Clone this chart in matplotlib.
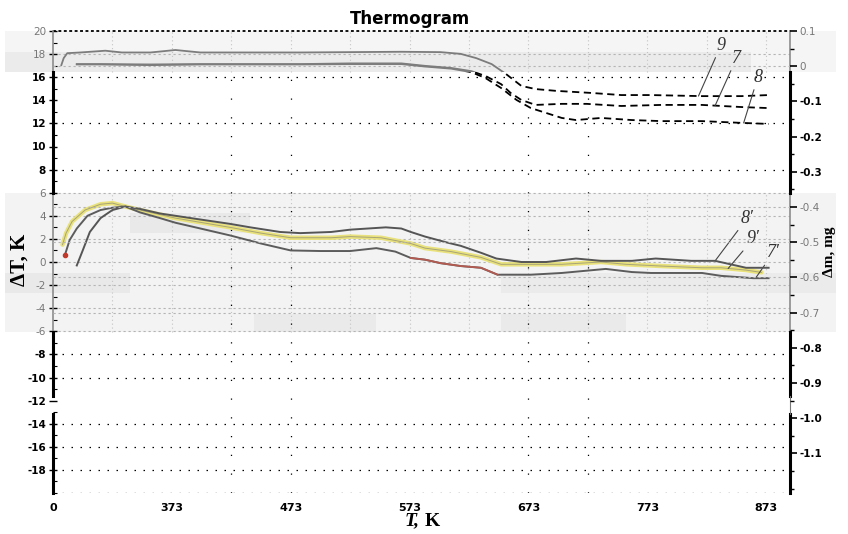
import numpy as np
import matplotlib
matplotlib.use("Agg")
import matplotlib.pyplot as plt
from matplotlib.patches import Rectangle
from matplotlib.ticker import MultipleLocator

plt.rcParams["axes.unicode_minus"] = False

# ---------------- data ----------------
# DTA curves: temperature difference dT (K) against temperature T (K)
t_8p = [293, 298, 304, 313, 323, 334, 346, 363, 389, 422, 439, 464, 481, 507, 523, 553, 566,
        574, 586, 604, 616, 633, 646, 667, 688, 713, 734, 760, 780, 810, 830, 856, 875]
dt_8p = [-0.3, 1.0, 2.6, 3.8, 4.5, 4.8, 4.6, 4.2, 3.8, 3.3, 3.0, 2.6, 2.5, 2.6, 2.8, 3.0, 2.9,
         2.6, 2.2, 1.7, 1.4, 0.8, 0.3, 0.0, 0.0, 0.3, 0.1, 0.1, 0.3, 0.1, 0.1, -0.5, -0.5]

t_9p = [281, 284, 289, 300, 313, 323, 334, 346, 376, 422, 448, 473, 507, 523, 549, 574, 586,
        608, 633, 650, 675, 701, 734, 755, 785, 819, 835, 856, 869]
dt_9p = [1.5, 2.5, 3.5, 4.5, 5.0, 5.1, 4.8, 4.5, 3.8, 3.0, 2.5, 2.1, 2.1, 2.2, 2.1, 1.6, 1.2,
         0.9, 0.4, -0.2, -0.2, -0.2, 0.0, -0.2, -0.35, -0.5, -0.5, -0.7, -0.9]

t_7p = [283, 287, 293, 302, 313, 323, 334, 346, 363, 376, 397, 422, 448, 473, 498, 523, 545,
        561, 574, 586, 599, 616, 633, 647, 675, 701, 738, 760, 776, 819, 835, 862, 875]
dt_7p = [0.6, 1.9, 2.9, 4.0, 4.5, 4.7, 4.8, 4.3, 3.8, 3.4, 2.9, 2.3, 1.6, 1.0, 0.95, 0.95, 1.2,
         0.9, 0.35, 0.2, -0.1, -0.35, -0.5, -1.1, -1.1, -0.95, -0.6, -0.87, -0.95, -0.95, -1.2, -1.4, -1.4]

# TG curves: mass change dm (mg) against temperature T (K)
t_9 = [280, 282, 285, 296, 317, 331, 355, 376, 397, 439, 481, 523, 566, 599, 616, 629, 642,
       654, 667, 679, 696, 726, 751, 776, 819, 852, 875]
dm_9 = [0.003, 0.023, 0.037, 0.039, 0.044, 0.039, 0.039, 0.046, 0.039, 0.039, 0.039, 0.040, 0.041,
        0.040, 0.035, 0.023, 0.006, -0.022, -0.056, -0.065, -0.070, -0.076, -0.082, -0.082,
        -0.085, -0.085, -0.082]

t_7 = [293, 313, 355, 397, 439, 481, 523, 566, 586, 608, 625, 637, 650, 658, 667, 679, 701,
       722, 751, 785, 819, 852, 875]
dm_7 = [0.006, 0.006, 0.005, 0.006, 0.006, 0.006, 0.008, 0.008, 0.001, -0.005, -0.014, -0.028,
        -0.051, -0.076, -0.096, -0.110, -0.107, -0.107, -0.113, -0.110, -0.110, -0.116, -0.119]

t_8 = [293, 313, 355, 397, 439, 481, 523, 566, 586, 608, 625, 637, 650, 663, 675, 688, 701,
       713, 734, 760, 785, 819, 852, 875]
dm_8 = [0.005, 0.005, 0.003, 0.005, 0.005, 0.005, 0.006, 0.006, -0.001, -0.007, -0.017, -0.034,
        -0.062, -0.096, -0.119, -0.133, -0.147, -0.153, -0.147, -0.153, -0.156, -0.156, -0.161, -0.164]

x_ticks = [273, 373, 473, 573, 673, 773, 873]
x_tick_labels = ["0", "373", "473", "573", "673", "773", "873"]
dt_ticks = [20, 18, 16, 14, 12, 10, 8, 6, 4, 2, 0, -2, -4, -6, -8, -10, -12, -14, -16, -18]
dm_ticks = [0.1, 0.0, -0.1, -0.2, -0.3, -0.4, -0.5, -0.6, -0.7, -0.8, -0.9, -1.0, -1.1]
dm_tick_labels = ["0.1", "0", "-0.1", "-0.2", "-0.3", "-0.4", "-0.5", "-0.6", "-0.7",
                  "-0.8", "-0.9", "-1.0", "-1.1"]

# ---------------- figure ----------------
W, H = 848, 534
fig = plt.figure(figsize=(W / 100, H / 100), dpi=100)
ax = fig.add_axes([53 / W, 1 - 493 / H, 737 / W, 462 / H])
ax.set_xlim(273, 893)
ax.set_ylim(-20, 20)
ax2 = ax.twinx()
ax2.set_ylim(-1.2125, 0.1)
for a in (ax, ax2):
    for s in a.spines.values():
        s.set_visible(False)
    a.patch.set_visible(False)

T0, T1 = 273, 893
XF0, XF1 = 233, 932
TOP_BAND = (16.45, 20.0)
MID_BAND = (-6.05, 5.97)


def dm_to_dt(v):
    return -20 + (v + 1.2125) / 1.3125 * 40


def shade(x0, x1, y0, y1, color):
    ax.add_patch(Rectangle((x0, y0), x1 - x0, y1 - y0, facecolor=color,
                           edgecolor="none", zorder=0, clip_on=False))


# shaded strips
shade(XF0, XF1, 18.18, 20.0, "#f5f5f5")
shade(XF0, 860, TOP_BAND[0], 18.18, "#ebebeb")
shade(860, XF1, TOP_BAND[0], 18.18, "#f5f5f5")
shade(XF0, XF1, MID_BAND[0], MID_BAND[1], "#f3f3f3")
shade(338, 439, 2.5, 4.24, "#e9e9e9")
shade(XF0, 338, -2.7, -0.95, "#e9e9e9")
shade(442, 545, MID_BAND[0], -4.5, "#eaeaea")
shade(650, 755, MID_BAND[0], -4.5, "#eaeaea")
shade(650, XF1, -2.7, -0.95, "#ebebeb")

# grid
grid_x = np.arange(323, 874, 50)
ax.vlines(grid_x, *TOP_BAND, colors="#c4c4c4", linestyles=(0, (1, 2.5)), lw=0.8, zorder=1)
ax.vlines(grid_x, *MID_BAND, colors="#c4c4c4", linestyles=(0, (1, 2.5)), lw=0.8, zorder=1)
ax.vlines([423, 473, 673, 723], -20, TOP_BAND[0], colors="black",
          linestyles=(0, (1, 14)), lw=0.9, zorder=1)
ax.hlines([16, 12, 8, -8, -10, -14, -16, -18, -20], T0, T1, colors="black",
          linestyles=(0, (1.2, 6)), lw=0.9, zorder=1)
ax.hlines([18, 6, 4, 2, 0, -2, -4, -6], T0, T1, colors="#b4b4b4",
          linestyles=(0, (2, 2.5)), lw=0.8, zorder=1)
ax2.hlines([0.0, -0.4, -0.5, -0.6, -0.7], T0, T1, colors="#b4b4b4",
           linestyles=(0, (2, 2.5)), lw=0.8, zorder=1)
ax.plot([T0, T1], [20, 20], color="black", lw=1.3, ls=(0, (1.6, 1.4)), clip_on=False, zorder=5)

# frame
for x in (T0, T1):
    for y0, y1 in [(20, TOP_BAND[0]), MID_BAND]:
        ax.plot([x, x], [y0, y1], color="#8c8c8c", lw=1.2, clip_on=False, zorder=5)
    for y0, y1 in [(TOP_BAND[0], MID_BAND[1]), (MID_BAND[0], -11.6), (-13.2, -20)]:
        ax.plot([x, x], [y0, y1], color="black", lw=2.2, clip_on=False, zorder=5)
ax.plot([T1, T1], [-11.6, -13.2], color="#777777", lw=0.8, clip_on=False, zorder=5)

# DTA curves
ax.plot(t_9p, dt_9p, color="#e9e27c", lw=3.2, zorder=3, solid_capstyle="round")
ax.plot(t_9p, dt_9p, color="#a8a478", lw=0.7, zorder=3)
ax.plot(t_8p, dt_8p, color="#555555", lw=1.4, zorder=4)
ax.plot(t_7p, dt_7p, color="#5c5c5c", lw=1.4, zorder=4)
t7a, d7a = np.array(t_7p), np.array(dt_7p)
red = (t7a >= 570) & (t7a <= 648)
ax.plot(t7a[red], d7a[red], color="#b45a50", lw=1.3, zorder=4)
ax.plot(t_7p[0], dt_7p[0], "o", color="#c0392b", ms=3, zorder=4)

# TG curves: grey where they cross the upper strip, dashed below it
in_clip = Rectangle((XF0, TOP_BAND[0]), XF1 - XF0, TOP_BAND[1] - TOP_BAND[0], transform=ax.transData)
out_clip = Rectangle((XF0, -20), XF1 - XF0, TOP_BAND[0] + 20, transform=ax.transData)
for tt, dd in [(t_9, dm_9), (t_7, dm_7), (t_8, dm_8)]:
    ln_in, = ax2.plot(tt, dd, color="#7c7c7c", lw=1.3, zorder=3)
    ln_in.set_clip_path(in_clip)
    ln_out, = ax2.plot(tt, dd, color="black", lw=1.3, dashes=(4, 2.5), zorder=3)
    ln_out.set_clip_path(out_clip)

# curve labels
lab_kw = dict(fontsize=13, family="Liberation Serif", style="italic", color="#333333",
              ha="center", va="center",
              arrowprops=dict(arrowstyle="-", lw=0.8, color="#444444", shrinkA=1, shrinkB=0))
for name, tt, dd, tp, pos in [("9", t_9, dm_9, 816, (835, 0.060)),
                              ("7", t_7, dm_7, 830, (848, 0.023)),
                              ("8", t_8, dm_8, 854, (866, -0.031))]:
    ax2.annotate(name, xy=(tp, np.interp(tp, tt, dd)), xytext=pos, **lab_kw)
for name, tt, dd, tp, pos in [("8′", t_8p, dt_8p, 830, (857, 3.8)),
                              ("9′", t_9p, dt_9p, 841, (862, 2.0)),
                              ("7′", t_7p, dt_7p, 864, (879, 0.8))]:
    ax.annotate(name, xy=(tp, np.interp(tp, tt, dd)), xytext=pos, **lab_kw)

# ticks
ax.set_xticks(x_ticks)
ax.set_xticklabels(x_tick_labels)
ax.tick_params(axis="x", length=0, pad=7, labelsize=8)
for lbl in ax.get_xticklabels():
    lbl.set_fontweight("bold")
    lbl.set_family("DejaVu Sans")
ax2.tick_params(axis="x", length=0)

ax.set_yticks(dt_ticks)
ax.set_yticklabels([str(v) for v in dt_ticks])
ax.yaxis.set_minor_locator(MultipleLocator(1))
ax.tick_params(axis="y", which="major", direction="inout", length=6, width=1.0, pad=2, labelsize=7.5)
ax.tick_params(axis="y", which="minor", direction="in", length=3, width=0.8)


def in_band(v):
    return TOP_BAND[0] - 0.3 <= v <= TOP_BAND[1] + 0.3 or MID_BAND[0] - 0.3 <= v <= MID_BAND[1] + 0.3


for v, lbl in zip(dt_ticks, ax.get_yticklabels()):
    if in_band(v):
        lbl.set_color("#777777")
    else:
        lbl.set_fontweight("bold")

ax2.set_yticks(dm_ticks)
ax2.set_yticklabels(dm_tick_labels)
ax2.yaxis.set_minor_locator(MultipleLocator(0.05))
ax2.tick_params(axis="y", which="major", direction="out", length=5, width=1.2, pad=2, labelsize=7.5)
ax2.tick_params(axis="y", which="minor", direction="out", length=3, width=1.0)
for v, lbl in zip(dm_ticks, ax2.get_yticklabels()):
    if in_band(dm_to_dt(v)):
        lbl.set_color("#777777")
    else:
        lbl.set_fontweight("bold")

# titles and axis names
fig.text(410 / W, 1 - 19 / H, "Thermogram", ha="center", va="center",
         fontsize=12, fontweight="bold", family="DejaVu Sans")
fig.text(412 / W, 1 - 521 / H, "T,", ha="center", va="center", fontsize=14,
         fontweight="bold", style="italic", family="Liberation Serif")
fig.text(432 / W, 1 - 521 / H, "K", ha="center", va="center", fontsize=14,
         fontweight="bold", family="Liberation Serif")
fig.text(20 / W, 1 - 260 / H, "ΔT, K", ha="center", va="center", rotation=90,
         fontsize=15, fontweight="bold", family="Liberation Serif")
fig.text(830 / W, 1 - 252 / H, "Δm, mg", ha="center", va="center", rotation=90,
         fontsize=11, fontweight="bold", family="Liberation Serif")

fig.savefig("out.png", dpi=100)
